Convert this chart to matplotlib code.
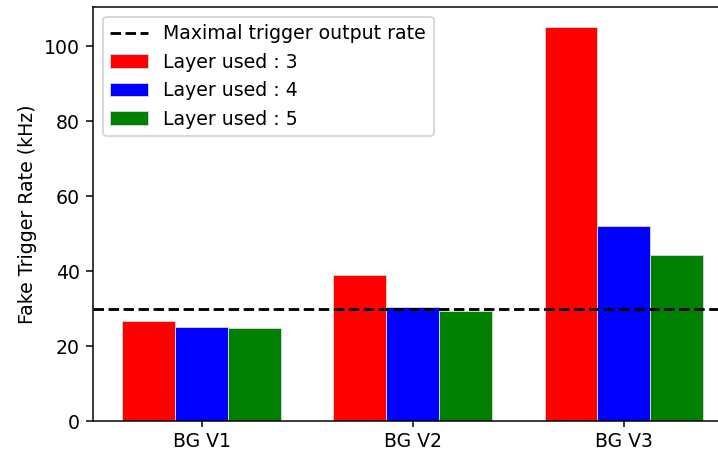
import numpy as np
import matplotlib
matplotlib.use("Agg")
import matplotlib.pyplot as plt

# Data
backgrounds = ["BG V1", "BG V2", "BG V3"]
layers = [3, 4, 5]
rate_layer3 = [26.8, 39.0, 105.2]
rate_layer4 = [25.1, 30.5, 52.1]
rate_layer5 = [24.8, 29.4, 44.3]
max_output_rate = 30
colors = ["red", "blue", "green"]

dpi = 136
fig = plt.figure(figsize=(718 / dpi, 452 / dpi), dpi=dpi)
# axes run past the right edge, as in the (cropped) reference
ax = fig.add_axes([0.13, 0.068, 0.8895, 0.916])

x = np.arange(len(backgrounds))
width = 0.25
ax.axhline(max_output_rate, color="black", linestyle="--", linewidth=1.5,
           label="Maximal trigger output rate")
for i, (rates, layer) in enumerate(zip([rate_layer3, rate_layer4, rate_layer5], layers)):
    ax.bar(x + (i - 1) * width, rates, width, color=colors[i],
           edgecolor="lightgray", linewidth=0.5, label=f"Layer used : {layer}")

ax.set_xticks(x)
ax.set_xticklabels(backgrounds)
ax.tick_params(axis="x", length=3, pad=2.5)
ax.set_ylabel("Fake Trigger Rate (kHz)")
ax.legend(loc="upper left")

fig.savefig("out.png", dpi=dpi)
